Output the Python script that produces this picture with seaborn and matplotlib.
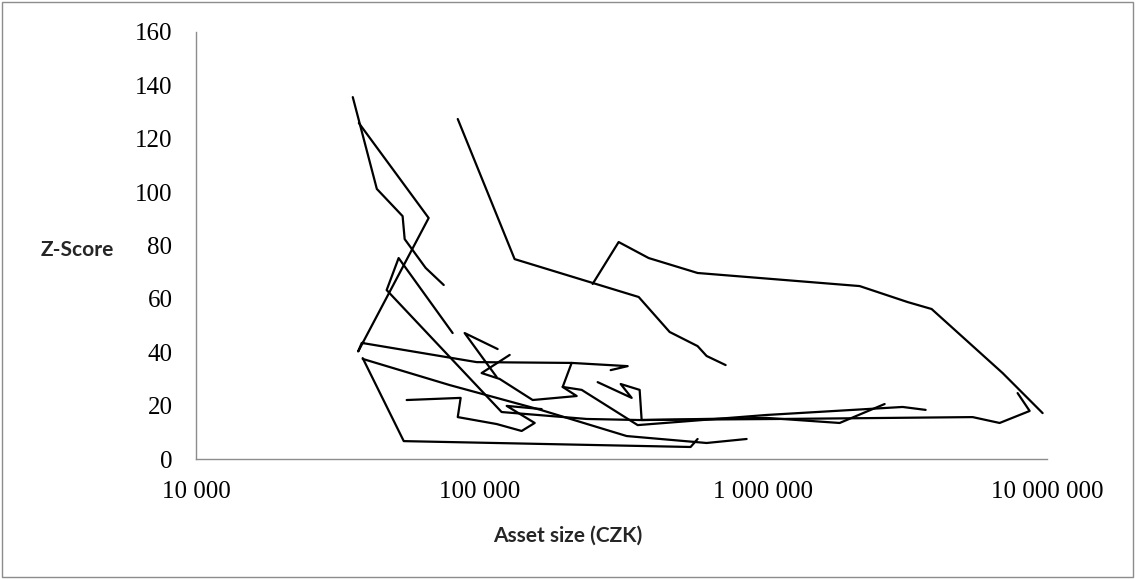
import pandas as pd
import matplotlib.pyplot as plt
import matplotlib.ticker as mticker
import seaborn as sns

# asset size (CZK) and Z-score per firm
a_asset = [83700, 132800, 363600, 467400, 586500, 631000, 736300]
a_z = [127.4, 74.9, 60.7, 47.6, 42.3, 38.6, 35.2]

b_asset = [250200, 309000, 394200, 586500, 2185000, 3227000, 3920000, 6976000, 9650000]
b_z = [65.6, 81.3, 75.3, 69.7, 64.8, 58.8, 56.2, 32.2, 17.2]

c_asset = [35700, 43400, 53500, 54400, 64500, 74700]
c_z = [135.6, 101.2, 91.0, 82.4, 71.6, 65.2]

d_asset = [37500, 66100, 37300, 38400, 97600, 211000, 332500, 289600]
d_z = [125.9, 90.3, 40.3, 43.5, 36.3, 36.0, 34.8, 33.3]

e_asset = [80300, 51800, 47000, 119500, 238400, 366400, 1141000, 5469000, 6808000, 8687000, 7877000]
e_z = [47.2, 75.3, 63.3, 17.6, 15.0, 14.6, 15.0, 15.7, 13.5, 18.0, 24.7]

f_asset = [55300, 85700, 83700, 114800, 140600, 156300, 124500, 165400]
f_z = [22.1, 22.9, 15.7, 13.1, 10.5, 13.5, 19.9, 18.7]

g_asset = [38700, 54000, 554100, 586500]
g_z = [37.8, 6.7, 4.5, 7.5]

h_asset = [38700, 78400, 164100, 329800, 631000, 873200]
h_z = [37.5, 27.7, 18.4, 8.6, 6.0, 7.5]

i_asset = [115700, 88500, 114800]
i_z = [41.2, 47.2, 30.7]

j_asset = [127600, 101600, 117600, 153800, 219800, 196200, 211000]
j_z = [39.0, 32.2, 30.0, 22.1, 23.6, 27.0, 36.0]

k_asset = [196200, 228900, 360600, 1027000, 3098000, 3734000]
k_z = [27.0, 25.9, 12.7, 16.5, 19.5, 18.4]

l_asset = [260600, 343500, 314100, 366400, 372400, 1027000, 1858000, 2677000]
l_z = [28.8, 22.9, 28.1, 25.9, 14.6, 15.4, 13.5, 20.6]

firms = {
    'A': (a_asset, a_z), 'B': (b_asset, b_z), 'C': (c_asset, c_z),
    'D': (d_asset, d_z), 'E': (e_asset, e_z), 'F': (f_asset, f_z),
    'G': (g_asset, g_z), 'H': (h_asset, h_z), 'I': (i_asset, i_z),
    'J': (j_asset, j_z), 'K': (k_asset, k_z), 'L': (l_asset, l_z),
}

rows = []
for name, (xs, zs) in firms.items():
    for n, (x, z) in enumerate(zip(xs, zs)):
        rows.append((name, n, x, z))
df = pd.DataFrame(rows, columns=['firm', 'step', 'asset', 'z'])

sns.set_style('white')
plt.rcParams['font.family'] = ['Liberation Serif', 'DejaVu Serif']

fig = plt.figure(figsize=(11.36, 5.79), dpi=100)
ax = fig.add_axes([196 / 1136, 120 / 579, 851 / 1136, 427 / 579])

sns.lineplot(data=df, x='asset', y='z', units='firm', estimator=None,
             sort=False, color='black', linewidth=1.6, ax=ax)

ax.set_xscale('log')
ax.set_xlim(1e4, 1e7)
ax.set_ylim(0, 160)
ax.set_yticks(range(0, 161, 20))
ax.set_xticks([1e4, 1e5, 1e6, 1e7])
ax.xaxis.set_minor_locator(mticker.NullLocator())
ax.xaxis.set_major_formatter(mticker.FuncFormatter(lambda v, p: f'{int(round(v)):,}'.replace(',', ' ')))

grey = '#8c8c8c'
sns.despine(ax=ax)
for s in ['left', 'bottom']:
    ax.spines[s].set_color(grey)
    ax.spines[s].set_linewidth(1.0)
ax.tick_params(axis='both', direction='out', length=7, width=1.0, color=grey,
               labelsize=18, labelcolor='black')
ax.tick_params(axis='y', pad=10)
ax.tick_params(axis='x', pad=9)
ax.set_xlabel('')
ax.set_ylabel('')

fig.text(77 / 1136, 1 - 250 / 579, 'Z-Score', family=['Lato', 'DejaVu Sans'],
         weight='bold', fontsize=15, ha='center', va='center')
fig.text(568 / 1136, 1 - 536 / 579, 'Asset size (CZK)', family=['Lato', 'DejaVu Sans'],
         weight='bold', fontsize=15, ha='center', va='center')

fig.add_artist(plt.Rectangle((2 / 1136, 2 / 579), 1131 / 1136, 575 / 579,
                             transform=fig.transFigure, fill=False,
                             edgecolor=grey, linewidth=1.0))

fig.savefig('out.png', dpi=100)
